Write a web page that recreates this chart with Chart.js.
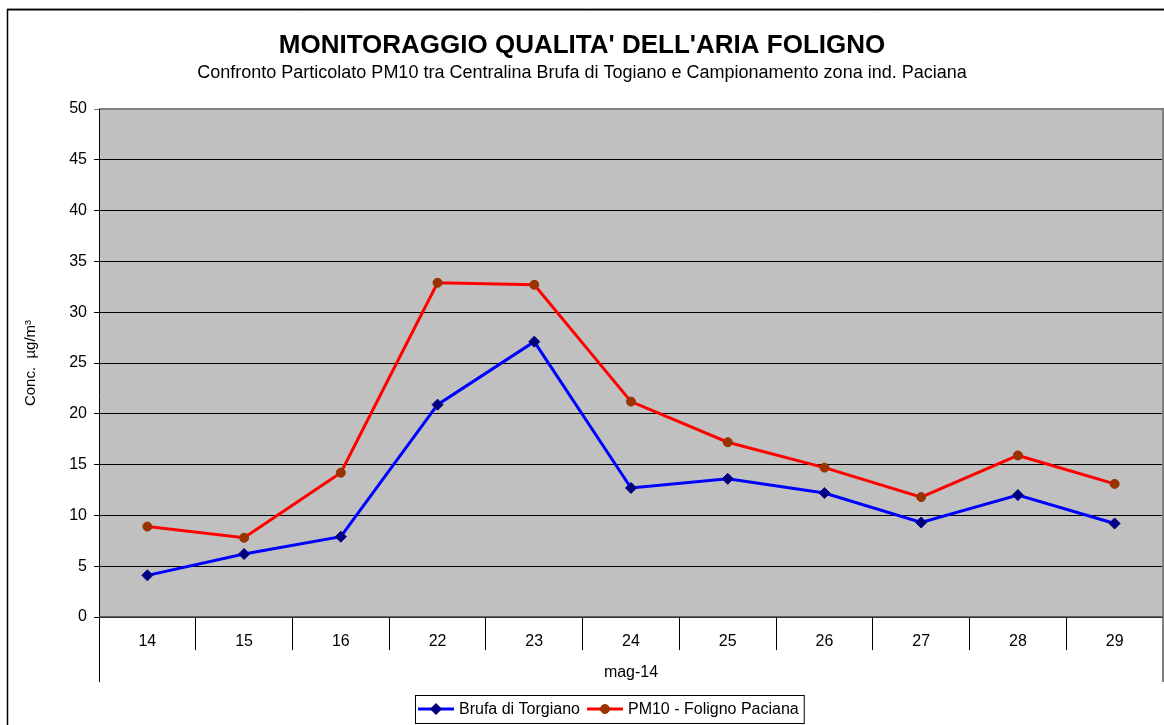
<!DOCTYPE html>
<html>
<head>
<meta charset="utf-8">
<title>Monitoraggio qualità dell'aria Foligno</title>
<script src="https://cdn.jsdelivr.net/npm/chart.js@4/dist/chart.umd.min.js"></script>
<style>
  html, body { margin: 0; padding: 0; background: #fff; }
  #wrap { width: 1164px; height: 725px; }
</style>
</head>
<body>
<div id="wrap"><canvas id="chart" width="1164" height="725"></canvas></div>
<script>
// data (PM10, µg/m3, May 2014)
const days = ['14', '15', '16', '22', '23', '24', '25', '26', '27', '28', '29'];
const brufaTorgiano = [4.1, 6.2, 7.9, 20.9, 27.1, 12.7, 13.6, 12.2, 9.3, 12.0, 9.2];
const folignoPaciana = [8.9, 7.8, 14.2, 32.9, 32.7, 21.2, 17.2, 14.7, 11.8, 15.9, 13.1];
const yMin = 0;
const yMax = 50;
const yStep = 5;
const groupLabel = 'mag-14';

const FONT = 'Arial, "Liberation Sans", sans-serif';
Chart.defaults.font.family = FONT;
Chart.defaults.color = '#000';

// background, frame, titles, the extra axis lines and the boxed legend
const excelLook = {
  id: 'excelLook',
  beforeDraw(chart) {
    const { ctx, chartArea: a } = chart;
    ctx.save();
    ctx.fillStyle = '#fff';
    ctx.fillRect(0, 0, chart.width, chart.height);
    ctx.fillStyle = '#c0c0c0';
    ctx.fillRect(a.left, a.top, a.right - a.left, a.bottom - a.top);
    ctx.restore();
  },
  afterDraw(chart) {
    const { ctx, chartArea: a } = chart;
    const cx = chart.width / 2;
    ctx.save();

    // outer frame
    ctx.strokeStyle = '#999';
    ctx.lineWidth = 1;
    ctx.beginPath(); ctx.moveTo(7, 8.5); ctx.lineTo(chart.width, 8.5); ctx.stroke();
    ctx.strokeStyle = '#000';
    ctx.lineWidth = 1.5;
    ctx.beginPath();
    ctx.moveTo(7.5, chart.height); ctx.lineTo(7.5, 9.75); ctx.lineTo(chart.width, 9.75);
    ctx.stroke();

    // titles
    ctx.fillStyle = '#000';
    ctx.textAlign = 'center';
    ctx.textBaseline = 'middle';
    ctx.font = 'bold 26px ' + FONT;
    ctx.fillText("MONITORAGGIO QUALITA' DELL'ARIA FOLIGNO", cx, 46);
    ctx.font = '18px ' + FONT;
    ctx.fillText('Confronto Particolato PM10 tra Centralina Brufa di Togiano e Campionamento zona ind. Paciana', cx, 73);

    // plot border top/right (gray) and the category axis outer lines
    const axisBottom = a.bottom + 65;
    ctx.strokeStyle = '#808080';
    ctx.lineWidth = 2;
    ctx.beginPath();
    ctx.moveTo(a.left, a.top); ctx.lineTo(a.right, a.top); ctx.lineTo(a.right, axisBottom);
    ctx.stroke();
    ctx.strokeStyle = '#000';
    ctx.lineWidth = 1;
    ctx.beginPath();
    ctx.moveTo(a.left + 0.5, a.top); ctx.lineTo(a.left + 0.5, axisBottom);
    ctx.stroke();
    ctx.strokeStyle = '#404040';
    ctx.lineWidth = 1.5;
    ctx.beginPath(); ctx.moveTo(a.left, a.bottom); ctx.lineTo(a.right, a.bottom); ctx.stroke();

    // legend box
    const lx = 415, ly = 695, lh = 28;
    const ymid = ly + lh / 2;
    ctx.font = '16px ' + FONT;
    ctx.textAlign = 'left';
    let x = lx + 3;
    let textEnd = x;
    chart.data.datasets.forEach((ds) => {
      ctx.strokeStyle = ds.borderColor;
      ctx.lineWidth = 3;
      ctx.beginPath(); ctx.moveTo(x, ymid); ctx.lineTo(x + 36, ymid); ctx.stroke();
      ctx.fillStyle = ds.pointBackgroundColor;
      ctx.strokeStyle = ds.pointBorderColor;
      ctx.lineWidth = 1;
      Chart.helpers.drawPoint(ctx, { pointStyle: ds.pointStyle, radius: ds.pointRadius, borderWidth: 1 }, x + 18, ymid);
      ctx.fillStyle = '#000';
      ctx.fillText(ds.label, x + 41, ymid + 1);
      textEnd = x + 41 + ctx.measureText(ds.label).width;
      x = textEnd + 7;
    });
    ctx.strokeStyle = '#000';
    ctx.lineWidth = 1;
    ctx.strokeRect(lx + 0.5, ly + 0.5, textEnd + 5 - lx, lh);

    ctx.restore();
  }
};

const ctx = document.getElementById('chart').getContext('2d');
new Chart(ctx, {
  type: 'line',
  data: {
    labels: days,
    datasets: [
      {
        label: 'Brufa di Torgiano',
        data: brufaTorgiano,
        borderColor: '#0000ff',
        borderWidth: 3,
        pointStyle: 'rectRot',
        pointRadius: 5.5,
        pointBackgroundColor: '#000080',
        pointBorderColor: '#000080',
        pointBorderWidth: 1,
        tension: 0
      },
      {
        label: 'PM10 - Foligno Paciana',
        data: folignoPaciana,
        borderColor: '#ff0000',
        borderWidth: 3,
        pointStyle: 'circle',
        pointRadius: 4.5,
        pointBackgroundColor: '#993300',
        pointBorderColor: '#993300',
        pointBorderWidth: 1,
        tension: 0
      }
    ]
  },
  options: {
    responsive: false,
    animation: false,
    layout: { autoPadding: false, padding: { top: 109, left: 0, right: 1, bottom: 0 } },
    plugins: {
      legend: { display: false },
      title: { display: false },
      tooltip: { enabled: false }
    },
    scales: {
      x: {
        type: 'category',
        offset: true,
        afterFit: (s) => {
          s.height = 108;
          s.paddingLeft = 0;
          s.paddingRight = 0;
        },
        grid: {
          offset: true,
          drawOnChartArea: false,
          drawTicks: true,
          tickLength: 33,
          color: '#000'
        },
        border: { display: false },
        ticks: { font: { size: 16 }, padding: -18.5, maxRotation: 0 },
        title: {
          display: true,
          text: groupLabel,
          font: { size: 16 },
          padding: { top: 0, bottom: 43 }
        }
      },
      y: {
        min: yMin,
        max: yMax,
        afterFit: (s) => { s.width = 99; },
        grid: {
          color: (c) => (c.tick && c.tick.value === yMax ? '#808080' : '#000'),
          lineWidth: 1,
          tickLength: 5
        },
        border: { display: false },
        ticks: { stepSize: yStep, font: { size: 16 }, padding: 7 },
        title: {
          display: true,
          text: 'Conc.  µg/m³',
          font: { size: 15 },
          padding: { top: 22, bottom: 0 }
        }
      }
    }
  },
  plugins: [excelLook]
});
</script>
</body>
</html>
